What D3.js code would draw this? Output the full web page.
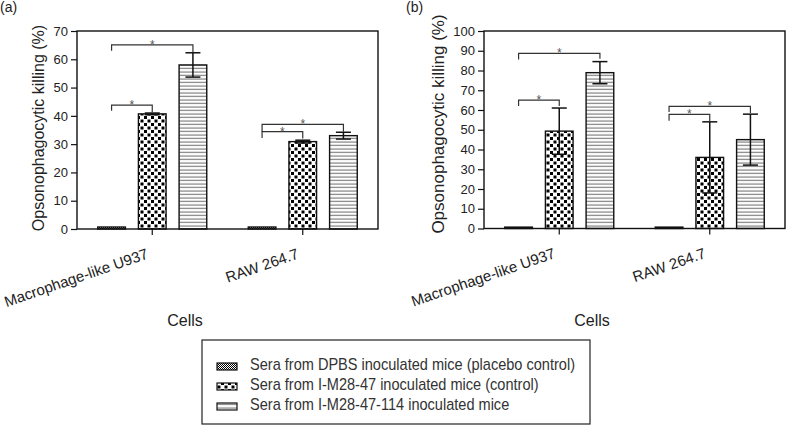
<!DOCTYPE html>
<html><head><meta charset="utf-8">
<script src="https://cdn.jsdelivr.net/npm/d3@7"></script>
<style>
html,body{margin:0;padding:0;background:#fff;}
svg{display:block;font-family:"Liberation Sans",Arial,Helvetica,sans-serif;}
</style>
</head><body>
<svg id="chart" width="787" height="428"></svg>
<script>
// ---------- data ----------
const categories = ["Macrophage-like U937", "RAW 264.7"];
const seriesKeys = ["dpbs", "m2847", "m2847114"];
const seriesLabels = [
  "Sera from DPBS inoculated mice (placebo control)",
  "Sera from I-M28-47 inoculated mice (control)",
  "Sera from I-M28-47-114 inoculated mice"
];
// panel (a)
const aDPBS = [0.7, 0.7];
const aM2847 = [40.7, 30.9];
const aM2847114 = [58.0, 33.0];
const aDPBSErr = [0, 0];
const aM2847Err = [0.3, 0.5];
const aM2847114Err = [4.3, 1.2];
const aTicks = [0, 10, 20, 30, 40, 50, 60, 70];
// brackets: [category index, from series, to series, bracket level, left end, right end]
const aBrackets = [
  [0, 0, 2, 65.1, 63.0, 62.6],
  [0, 0, 1, 43.8, 41.8, 41.3],
  [1, 0, 2, 37.0, 34.4, 34.4],
  [1, 0, 1, 34.4, 32.2, 32.0]
];
// panel (b)
const bDPBS = [0.7, 0.7];
const bM2847 = [49.3, 36.0];
const bM2847114 = [78.9, 45.0];
const bDPBSErr = [0, 0];
const bM2847Err = [11.7, 18.0];
const bM2847114Err = [5.6, 12.9];
const bTicks = [0, 10, 20, 30, 40, 50, 60, 70, 80, 90, 100];
const bBrackets = [
  [0, 0, 2, 88.7, 85.6, 86.0],
  [0, 0, 1, 65.0, 62.0, 62.0],
  [1, 0, 2, 61.8, 59.0, 58.5],
  [1, 0, 1, 57.8, 54.6, 54.0]
];
const yTitle = "Opsonophagocytic killing (%)";
const xTitle = "Cells";

// ---------- drawing ----------
const svg = d3.select("#chart");
const defs = svg.append("defs");

// pattern: fine checker (placebo)
const p1 = defs.append("pattern").attr("id", "pDPBS").attr("patternUnits", "userSpaceOnUse")
  .attr("width", 2).attr("height", 2);
p1.append("rect").attr("width", 2).attr("height", 2).attr("fill", "#fff");
p1.append("rect").attr("width", 1).attr("height", 1).attr("fill", "#000");
p1.append("rect").attr("x", 1).attr("y", 1).attr("width", 1).attr("height", 1).attr("fill", "#000");
// pattern: coarse checker
const p2 = defs.append("pattern").attr("id", "pM2847").attr("patternUnits", "userSpaceOnUse")
  .attr("width", 7).attr("height", 7);
p2.append("rect").attr("width", 7).attr("height", 7).attr("fill", "#fff");
p2.append("rect").attr("x", 0.5).attr("y", 0.5).attr("width", 3).attr("height", 3).attr("fill", "#000");
p2.append("rect").attr("x", 4).attr("y", 4).attr("width", 3).attr("height", 3).attr("fill", "#000");
// pattern: horizontal lines
const p3 = defs.append("pattern").attr("id", "pM2847114").attr("patternUnits", "userSpaceOnUse")
  .attr("width", 4).attr("height", 3.5);
p3.append("rect").attr("width", 4).attr("height", 3.5).attr("fill", "#fff");
p3.append("rect").attr("y", 1.5).attr("width", 4).attr("height", 0.9).attr("fill", "#555");
const fills = ["url(#pDPBS)", "url(#pM2847)", "url(#pM2847114)"];

function drawPanel(cfg) {
  const g = svg.append("g");
  const x = d3.scaleBand().domain(categories).range([cfg.left, cfg.right]).padding(0);
  const xi = d3.scaleBand().domain(seriesKeys).range([0, x.bandwidth()])
    .paddingInner(0.32).paddingOuter(0.51);
  const y = d3.scaleLinear().domain([0, cfg.yMax]).range([cfg.bottom, cfg.top]);

  const rows = [];
  categories.forEach((c, ci) => {
    cfg.values.forEach((arr, si) => {
      rows.push({c, ci, si, key: seriesKeys[si], v: arr[ci], e: cfg.errs[si][ci]});
    });
  });

  // y axis
  const ax = g.append("g").attr("transform", `translate(${cfg.left},0)`)
    .call(d3.axisLeft(y).tickValues(cfg.ticks).tickSize(6).tickSizeOuter(0).tickPadding(3));
  ax.select(".domain").remove();
  ax.selectAll(".tick line").attr("stroke", "#111").attr("stroke-width", 1.2);
  ax.selectAll(".tick text").attr("font-size", 13).attr("fill", "#222")
    .attr("font-family", "'Liberation Sans', Arial, sans-serif");

  // bars
  g.selectAll("rect.bar").data(rows).join("rect").attr("class", "bar")
    .attr("x", d => x(d.c) + xi(d.key))
    .attr("width", xi.bandwidth())
    .attr("y", d => y(d.v))
    .attr("height", d => y(0) - y(d.v))
    .attr("fill", d => fills[d.si])
    .attr("stroke", "#111").attr("stroke-width", 1.4);

  // error bars
  const eb = rows.filter(d => d.e > 0);
  const cx = d => x(d.c) + xi(d.key) + xi.bandwidth() / 2;
  g.selectAll("line.err").data(eb).join("line").attr("class", "err")
    .attr("x1", cx).attr("x2", cx)
    .attr("y1", d => y(d.v - d.e)).attr("y2", d => y(d.v + d.e))
    .attr("stroke", "#111").attr("stroke-width", 1.5);
  ["+", "-"].forEach(sgn => {
    g.selectAll("line.cap" + (sgn === "+" ? "u" : "d")).data(eb).join("line")
      .attr("class", "cap" + (sgn === "+" ? "u" : "d"))
      .attr("x1", d => cx(d) - 7.5).attr("x2", d => cx(d) + 7.5)
      .attr("y1", d => y(sgn === "+" ? d.v + d.e : d.v - d.e))
      .attr("y2", d => y(sgn === "+" ? d.v + d.e : d.v - d.e))
      .attr("stroke", "#111").attr("stroke-width", 1.5);
  });

  // frame
  g.append("rect").attr("x", cfg.left).attr("y", cfg.top)
    .attr("width", cfg.right - cfg.left).attr("height", cfg.bottom - cfg.top)
    .attr("fill", "none").attr("stroke", "#111").attr("stroke-width", 1.4);

  // x ticks and labels
  categories.forEach(c => {
    const gx = x(c) + x.bandwidth() / 2;
    g.append("line").attr("x1", gx).attr("x2", gx).attr("y1", cfg.bottom).attr("y2", cfg.bottom + 6)
      .attr("stroke", "#111").attr("stroke-width", 1.2);
    g.append("text").attr("transform", `translate(${gx - 3},${cfg.bottom + 29}) rotate(-19)`)
      .attr("text-anchor", "end").attr("font-size", 15).attr("fill", "#222").text(c);
  });

  // significance brackets
  cfg.brackets.forEach(b => {
    const c = categories[b[0]];
    const xa = x(c) + xi(seriesKeys[b[1]]) + xi.bandwidth() / 2;
    const xb = x(c) + xi(seriesKeys[b[2]]) + xi.bandwidth() / 2;
    g.append("path")
      .attr("d", `M${xa},${y(b[4])}V${y(b[3])}H${xb}V${y(b[5])}`)
      .attr("fill", "none").attr("stroke", "#333").attr("stroke-width", 1.2);
    g.append("text").attr("x", (xa + xb) / 2).attr("y", y(b[3]) + 4)
      .attr("text-anchor", "middle").attr("font-size", 12).attr("fill", "#555").text("*");
  });

  // y title
  g.append("text").attr("transform", `translate(${cfg.titleX},${cfg.titleY}) rotate(-90)`)
    .attr("text-anchor", "middle").attr("font-size", cfg.titleSize).attr("fill", "#222").text(yTitle);
  // x title
  g.append("text").attr("x", cfg.cellsX).attr("y", 326).attr("text-anchor", "middle")
    .attr("font-size", 16).attr("fill", "#222").text(xTitle);
  // panel label
  g.append("text").attr("x", cfg.labelX).attr("y", 12).attr("font-size", 14).attr("fill", "#222").text(cfg.label);
}

drawPanel({
  left: 77, right: 378, top: 31, bottom: 229, yMax: 70, ticks: aTicks,
  values: [aDPBS, aM2847, aM2847114], errs: [aDPBSErr, aM2847Err, aM2847114Err],
  brackets: aBrackets, titleX: 44, titleY: 128, titleSize: 16, cellsX: 185, labelX: 0, label: "(a)"
});
drawPanel({
  left: 484, right: 785, top: 31, bottom: 228.5, yMax: 100, ticks: bTicks,
  values: [bDPBS, bM2847, bM2847114], errs: [bDPBSErr, bM2847Err, bM2847114Err],
  brackets: bBrackets, titleX: 444, titleY: 124, titleSize: 17, cellsX: 592, labelX: 406, label: "(b)"
});

// legend
const lg = svg.append("g");
lg.append("rect").attr("x", 202).attr("y", 340).attr("width", 388).attr("height", 84)
  .attr("fill", "#fff").attr("stroke", "#222").attr("stroke-width", 1.2);
seriesLabels.forEach((s, i) => {
  const by = 370 + i * 20;
  lg.append("rect").attr("x", 217).attr("y", by - 7).attr("width", 20).attr("height", 7)
    .attr("fill", fills[i]).attr("stroke", "#111").attr("stroke-width", 1.2);
  lg.append("text").attr("transform", `translate(250,${by}) scale(0.91,1)`)
    .attr("font-size", 16).attr("fill", "#333").text(s);
});
</script>
</body></html>
